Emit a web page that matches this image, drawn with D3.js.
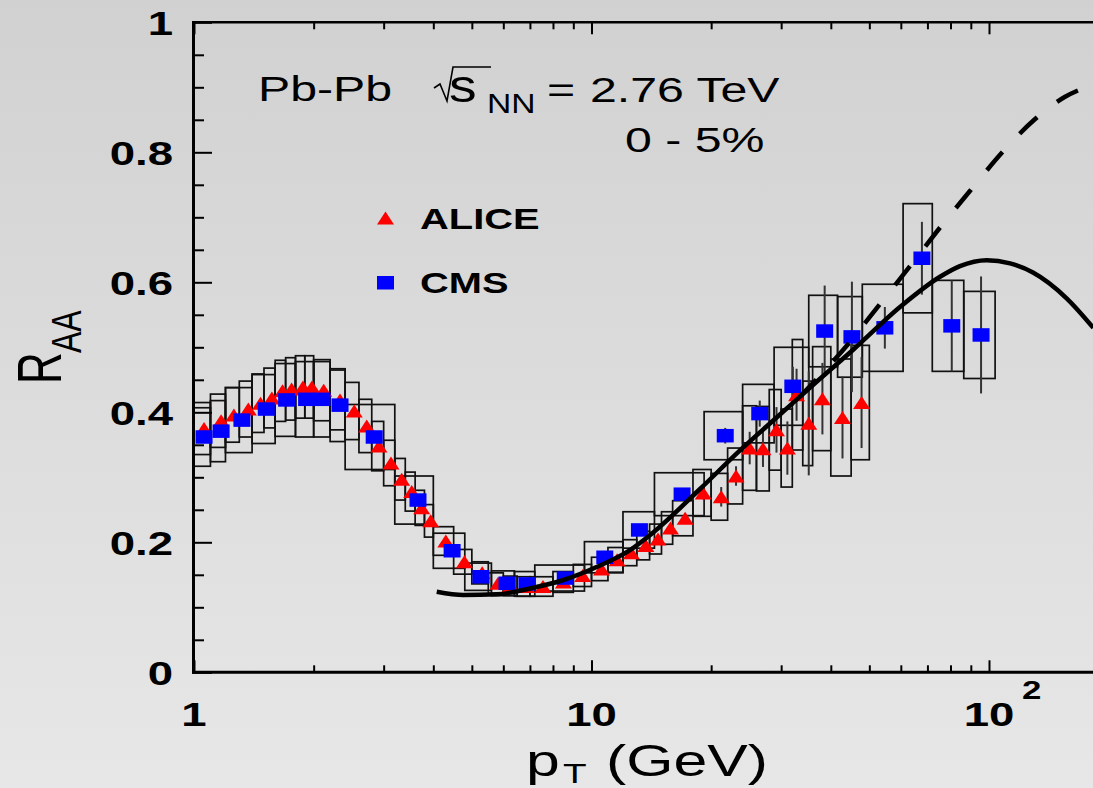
<!DOCTYPE html>
<html>
<head>
<meta charset="utf-8">
<script src="https://cdn.jsdelivr.net/npm/d3@7"></script>
<style>
  html, body { margin: 0; padding: 0; background: #dcdcdc; }
  svg { display: block; font-family: "Liberation Sans", Arial, Helvetica, sans-serif; }
</style>
</head>
<body>
<div id="chart"></div>
<script>
// ALICE charged hadron R_AA, 0-5%
const alicePt = [1.06, 1.17, 1.26, 1.37, 1.47, 1.57, 1.67, 1.76, 1.88, 1.98, 2.12, 2.33, 2.53, 2.72, 2.92,
    3.13, 3.33, 3.53, 3.74, 3.94, 4.30, 4.79, 5.31, 5.82, 6.25, 6.87, 7.55, 8.5, 9.5, 10.6, 11.6, 12.6,
    13.7, 14.7, 15.8, 17.2, 19.1, 21.2, 23.1, 25.0, 27.0, 29.2, 31.1, 32.8, 35.2, 38.1, 42.8, 47.8];
const aliceR = [0.375, 0.387, 0.396, 0.405, 0.414, 0.422, 0.433, 0.436, 0.439, 0.439, 0.434, 0.419, 0.402, 0.379, 0.348,
    0.322, 0.297, 0.278, 0.253, 0.233, 0.202, 0.170, 0.153, 0.137, 0.133, 0.132, 0.132, 0.139, 0.149, 0.159, 0.173, 0.184,
    0.195, 0.205, 0.222, 0.237, 0.276, 0.270, 0.302, 0.345, 0.344, 0.373, 0.345, 0.427, 0.383, 0.421, 0.392, 0.415];
const aliceStat = [0.002, 0.002, 0.002, 0.002, 0.002, 0.002, 0.002, 0.002, 0.002, 0.002, 0.002, 0.002, 0.002, 0.002, 0.002,
    0.002, 0.002, 0.002, 0.002, 0.002, 0.002, 0.002, 0.002, 0.002, 0.002, 0.002, 0.003, 0.003, 0.003, 0.004, 0.004, 0.005,
    0.005, 0.006, 0.006, 0.008, 0.01, 0.015, 0.015, 0.025, 0.028, 0.035, 0.041, 0.04, 0.08, 0.055, 0.063, 0.07];
const aliceSys = [0.04, 0.041, 0.042, 0.043, 0.045, 0.046, 0.047, 0.048, 0.048, 0.048, 0.047, 0.046, 0.044, 0.041, 0.038,
    0.035, 0.032, 0.03, 0.027, 0.025, 0.022, 0.019, 0.017, 0.016, 0.015, 0.015, 0.015, 0.016, 0.017, 0.018, 0.019, 0.02,
    0.022, 0.023, 0.025, 0.027, 0.036, 0.036, 0.043, 0.065, 0.065, 0.062, 0.06, 0.085, 0.065, 0.08, 0.09, 0.088];
const aliceEdges = [1.0, 1.1, 1.2, 1.3, 1.4, 1.5, 1.6, 1.7, 1.8, 1.9, 2.0, 2.2, 2.4, 2.6, 2.8, 3.0, 3.2, 3.4, 3.6, 3.8,
    4.0, 4.5, 5.0, 5.5, 6.0, 6.5, 7.0, 8.0, 9.0, 10, 11, 12, 13, 14, 15, 16, 18, 20, 22, 24, 26, 28, 30, 32, 34, 36,
    40, 45, 50];

// CMS charged hadron R_AA, 0-5%
const cmsPt = [1.06, 1.17, 1.32, 1.52, 1.71, 1.92, 2.10, 2.33, 2.84, 3.66, 4.46, 5.27, 6.13, 6.88, 8.59, 10.8, 13.2,
    16.9, 21.7, 26.5, 32.1, 38.6, 45.2, 54.7, 67.8, 80.6, 95.5];
const cmsR = [0.362, 0.371, 0.388, 0.405, 0.419, 0.420, 0.420, 0.411, 0.362, 0.265, 0.187, 0.147, 0.137, 0.136, 0.145,
    0.177, 0.219, 0.274, 0.364, 0.398, 0.440, 0.525, 0.516, 0.530, 0.637, 0.533, 0.519];
const cmsStat = [0.002, 0.002, 0.002, 0.002, 0.002, 0.002, 0.002, 0.002, 0.002, 0.002, 0.002, 0.002, 0.002, 0.002, 0.003,
    0.004, 0.005, 0.008, 0.012, 0.02, 0.03, 0.07, 0.085, 0.032, 0.056, 0.07, 0.09];
const cmsSys = [0.045, 0.047, 0.05, 0.053, 0.056, 0.058, 0.058, 0.056, 0.05, 0.037, 0.027, 0.021, 0.019, 0.019, 0.02,
    0.024, 0.028, 0.033, 0.037, 0.045, 0.06, 0.055, 0.062, 0.067, 0.084, 0.07, 0.067];
const cmsEdges = [1.0, 1.1, 1.2, 1.4, 1.6, 1.8, 2.0, 2.2, 2.4, 3.2, 4.0, 4.8, 5.6, 6.4, 7.2, 9.6, 12.0, 14.4, 19.2,
    24.0, 28.8, 35.2, 41.6, 48.0, 60.8, 72.0, 86.4, 103.6];

// model curves
const solidPt = [4.08, 4.76, 5.78, 7.0, 8.5, 10.3, 12.5, 14.0, 18.75, 23.6, 29.8, 36.9, 45.6, 59.7, 75.3, 84.5,
    98.7, 113, 129, 157, 183];
const solidR = [0.124, 0.119, 0.120, 0.129, 0.142, 0.162, 0.188, 0.2105, 0.282, 0.341, 0.3966, 0.4474, 0.4966,
    0.562, 0.6086, 0.625, 0.634, 0.629, 0.615, 0.575, 0.530];
const dashPt = [33.4, 40.2, 44.5, 53.4, 63.7, 75.7, 90.8, 108, 130, 155, 185];
const dashR = [0.424, 0.476, 0.507, 0.568, 0.627, 0.686, 0.745, 0.80, 0.85, 0.885, 0.905];

// axis ticks
const yTicks = [0, 0.2, 0.4, 0.6, 0.8, 1];
const yTickLabels = ["0", "0.2", "0.4", "0.6", "0.8", "1"];
const xTicks = [1, 10, 100];
const xTickLabels = ["1", "10", "10"];
const xMinor = [2, 3, 4, 5, 6, 7, 8, 9, 20, 30, 40, 50, 60, 70, 80, 90, 200];

const W = 1093, H = 788;
const sx = 1.34; // the picture is stretched sideways, so is its lettering

const svg = d3.select("#chart").append("svg")
    .attr("width", W)
    .attr("height", H);

// gray gradient background
const grad = svg.append("defs").append("linearGradient")
    .attr("id", "bg").attr("x1", 0).attr("y1", 0).attr("x2", 0).attr("y2", 1);
grad.append("stop").attr("offset", "0%").attr("stop-color", "#d1d1d1");
grad.append("stop").attr("offset", "100%").attr("stop-color", "#e7e7e7");
svg.append("rect").attr("width", W).attr("height", H).attr("fill", "url(#bg)");

// scales
const x = d3.scaleLog().domain([1, 200]).range([194, 194 + 397.5 * Math.log10(200)]);
const y = d3.scaleLinear().domain([0, 1]).range([672.3, 22.3]);

function text(str, px, py, size, weight, anchor, k) {
    return svg.append("text")
        .attr("transform", "translate(" + px + "," + py + ") scale(" + (k || sx) + ",1)")
        .attr("font-size", size)
        .attr("font-weight", weight || "normal")
        .attr("text-anchor", anchor || "start")
        .attr("fill", "#000")
        .text(str);
}

// systematic boxes
const boxes = svg.append("g").attr("fill", "none").attr("stroke", "#111").attr("stroke-width", 1.7);
alicePt.forEach((p, i) => {
    boxes.append("rect")
        .attr("x", x(aliceEdges[i]))
        .attr("width", x(aliceEdges[i + 1]) - x(aliceEdges[i]))
        .attr("y", y(aliceR[i] + aliceSys[i]))
        .attr("height", y(aliceR[i] - aliceSys[i]) - y(aliceR[i] + aliceSys[i]));
});
cmsPt.forEach((p, i) => {
    boxes.append("rect")
        .attr("x", x(cmsEdges[i]))
        .attr("width", x(cmsEdges[i + 1]) - x(cmsEdges[i]))
        .attr("y", y(cmsR[i] + cmsSys[i]))
        .attr("height", y(cmsR[i] - cmsSys[i]) - y(cmsR[i] + cmsSys[i]));
});

// statistical error bars
const bars = svg.append("g").attr("stroke", "#333").attr("stroke-width", 2);
alicePt.forEach((p, i) => {
    bars.append("line")
        .attr("x1", x(p)).attr("x2", x(p))
        .attr("y1", y(aliceR[i] - aliceStat[i])).attr("y2", y(aliceR[i] + aliceStat[i]));
});
cmsPt.forEach((p, i) => {
    bars.append("line")
        .attr("x1", x(p)).attr("x2", x(p))
        .attr("y1", y(cmsR[i] - cmsStat[i])).attr("y2", y(cmsR[i] + cmsStat[i]));
});

// markers
const tri = "M0,-6.5L8.5,6.5L-8.5,6.5Z";
svg.append("g").selectAll("path")
    .data(alicePt)
    .enter().append("path")
    .attr("d", tri)
    .attr("transform", (d, i) => "translate(" + x(d) + "," + y(aliceR[i]) + ")")
    .attr("fill", "#ff0000");

svg.append("g").selectAll("rect")
    .data(cmsPt)
    .enter().append("rect")
    .attr("x", d => x(d) - 8.5)
    .attr("y", (d, i) => y(cmsR[i]) - 6.75)
    .attr("width", 17)
    .attr("height", 13.5)
    .attr("fill", "#0000ff");

// model curves
const line = d3.line()
    .x(d => x(d[0]))
    .y(d => y(d[1]))
    .curve(d3.curveMonotoneX);

svg.append("path")
    .datum(solidPt.map((p, i) => [p, solidR[i]]))
    .attr("d", line)
    .attr("fill", "none")
    .attr("stroke", "#000")
    .attr("stroke-width", 4.5);

svg.append("path")
    .datum(dashPt.map((p, i) => [p, dashR[i]]))
    .attr("d", line)
    .attr("fill", "none")
    .attr("stroke", "#000")
    .attr("stroke-width", 4.5)
    .attr("stroke-dasharray", "24,25");

// axes: ticks point inward
function styleTicks(g) {
    g.select(".domain").remove();
    g.selectAll("line").attr("stroke", "#000").attr("stroke-width", 2);
}
const yMinor = d3.range(0.05, 1, 0.05).filter(v => Math.abs(v * 5 - Math.round(v * 5)) > 1e-6);

svg.append("g").attr("transform", "translate(194,0)")
    .call(d3.axisRight(y).tickValues(yTicks).tickSize(18).tickFormat(""))
    .call(styleTicks);
svg.append("g").attr("transform", "translate(194,0)")
    .call(d3.axisRight(y).tickValues(yMinor).tickSize(10).tickFormat(""))
    .call(styleTicks);

svg.append("g").attr("transform", "translate(0," + y(0) + ")")
    .call(d3.axisTop(x).tickValues(xTicks).tickSize(12).tickFormat(""))
    .call(styleTicks);
svg.append("g").attr("transform", "translate(0," + y(0) + ")")
    .call(d3.axisTop(x).tickValues(xMinor).tickSize(7).tickFormat(""))
    .call(styleTicks);
svg.append("g").attr("transform", "translate(0," + y(1) + ")")
    .call(d3.axisBottom(x).tickValues(xTicks).tickSize(12).tickFormat(""))
    .call(styleTicks);
svg.append("g").attr("transform", "translate(0," + y(1) + ")")
    .call(d3.axisBottom(x).tickValues(xMinor).tickSize(7).tickFormat(""))
    .call(styleTicks);

// frame
svg.append("line").attr("x1", 193.5).attr("x2", 193.5).attr("y1", y(1) - 1).attr("y2", y(0) + 1.5)
    .attr("stroke", "#000").attr("stroke-width", 3);
svg.append("line").attr("x1", 192).attr("x2", W).attr("y1", y(0)).attr("y2", y(0))
    .attr("stroke", "#000").attr("stroke-width", 3);
svg.append("line").attr("x1", 192).attr("x2", W).attr("y1", y(1)).attr("y2", y(1))
    .attr("stroke", "#000").attr("stroke-width", 2.5);

// tick labels
yTicks.forEach((v, i) => {
    text(yTickLabels[i], 173, y(v), 34, "bold", "end").attr("dy", "0.37em");
});
xTicks.forEach((v, i) => {
    text(xTickLabels[i], x(v), 726, 34, "bold", "middle");
});
text("2", x(100) + 33, 699, 26, "bold", "start");

// axis titles
text("p", 526, 776, 44, "normal", "start", 1.38);
text("T", 563, 783, 28, "normal", "start", 1.38);
text("(GeV)", 606, 776, 44, "normal", "start", 1.38);

svg.append("text")
    .attr("transform", "translate(61,384) scale(1.42,1) rotate(-90)")
    .attr("font-size", 44)
    .text("R");
svg.append("text")
    .attr("transform", "translate(81,353) scale(1.35,1) rotate(-90)")
    .attr("font-size", 32)
    .text("AA");

// collision label
text("Pb-Pb", 258, 101, 36, "normal", "start");
svg.append("path")
    .attr("d", "M434,88 L440,84 L447,101 L453,67 L491,67")
    .attr("fill", "none")
    .attr("stroke", "#000")
    .attr("stroke-width", 1.6);
text("s", 449, 101.5, 46, "normal", "start", 1.2);
text("NN", 487, 113, 28, "normal", "start", 1.2);
text("=", 547, 101.5, 36, "normal", "start");
text("2.76 TeV", 590, 101.5, 36, "normal", "start");
text("0 - 5%", 625, 151.5, 36, "normal", "start");

// legend
svg.append("path").attr("d", tri).attr("transform", "translate(385.5,218)").attr("fill", "#ff0000");
svg.append("rect").attr("x", 377).attr("y", 276).attr("width", 17).attr("height", 13.5).attr("fill", "#0000ff");
text("ALICE", 420, 228.5, 30, "bold", "start", 1.33);
text("CMS", 420, 292.5, 30, "bold", "start", 1.33);
</script>
</body>
</html>
